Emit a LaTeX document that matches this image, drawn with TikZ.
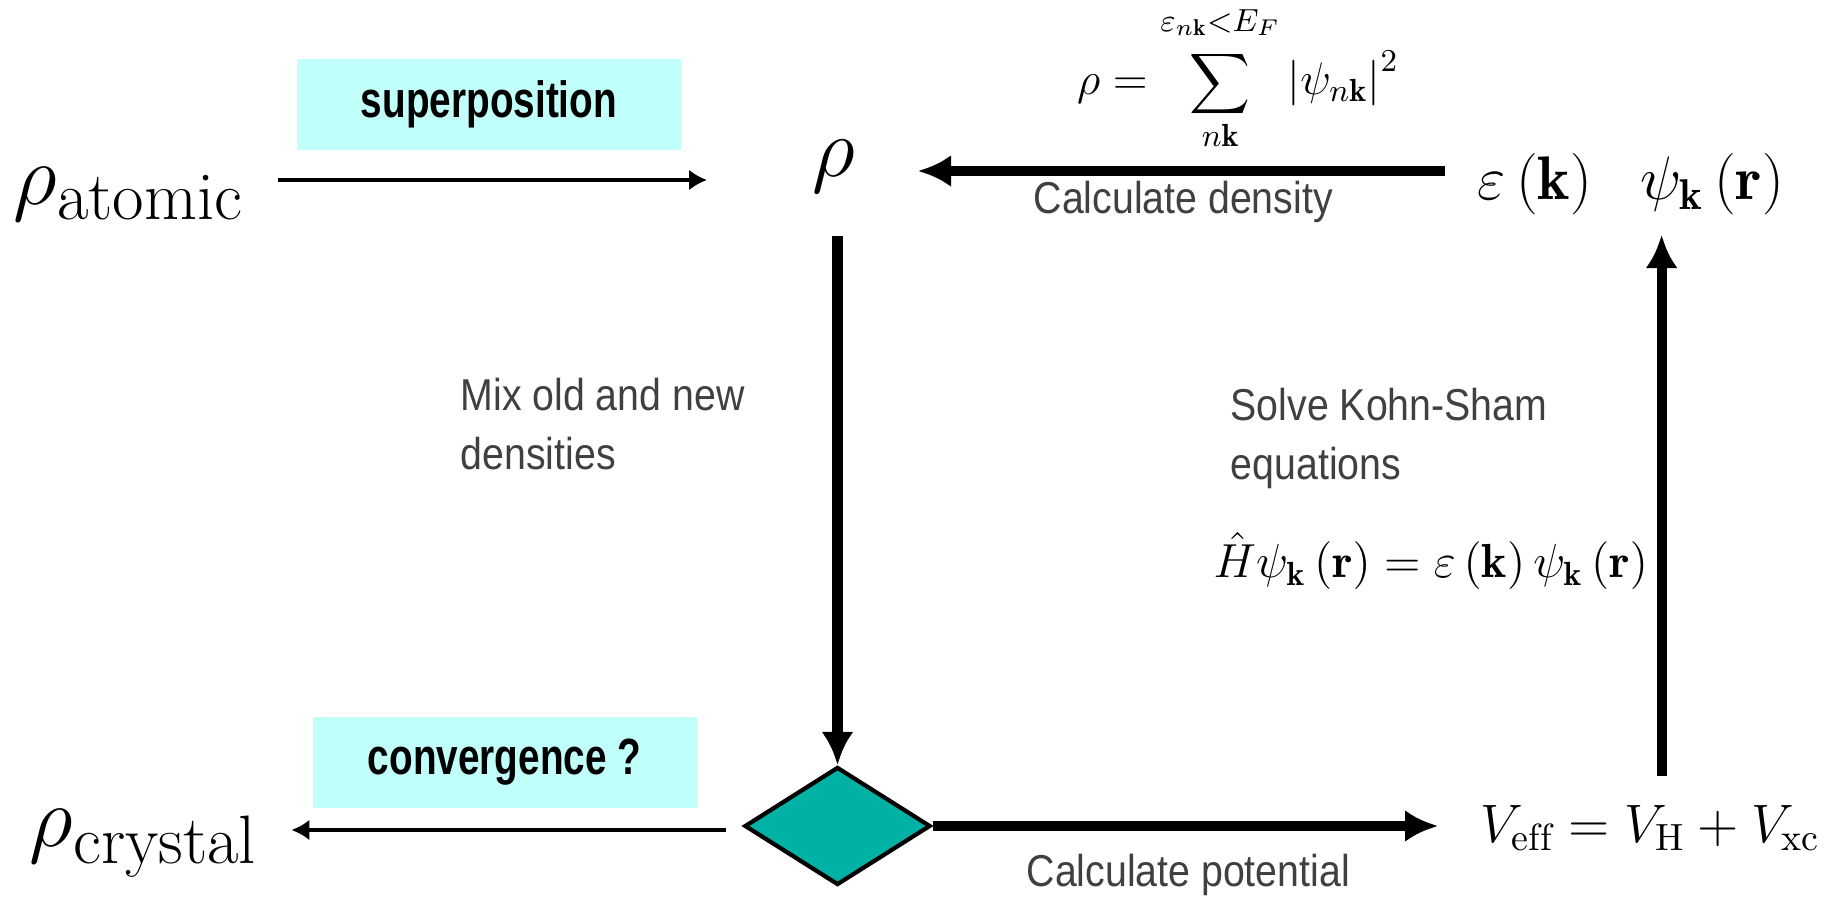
\RequirePackage{fix-cm}
\documentclass[tikz,border=0pt]{standalone}
\usepackage{fontspec}
\usepackage{amsmath}
\usepackage{xcolor}
\usepackage{tikz}
\usetikzlibrary{positioning,arrows.meta,shapes.geometric}
\newfontfamily\lblfont[FakeStretch=0.88]{Liberation Sans}
\newfontfamily\boxfont[FakeStretch=0.76]{Liberation Sans}
\DeclareMathSizes{24.5}{24.5}{19.5}{14}
\definecolor{boxcyan}{RGB}{192,255,250}
\definecolor{tealfill}{RGB}{0,178,166}
\definecolor{labelgray}{RGB}{64,64,64}

\begin{document}
\begin{tikzpicture}[x=0.1mm,y=-0.1mm,
  mathnode/.style={inner sep=0pt, anchor=base west},
  lbl/.style={inner sep=0pt, anchor=base west, align=left, text=labelgray,
    font=\lblfont\fontsize{12.7pt}{17pt}\selectfont},
  cbox/.style={fill=boxcyan, minimum width=38.4mm, minimum height=9.1mm, inner sep=0pt,
    font=\boxfont\bfseries\fontsize{14.5pt}{17pt}\selectfont},
  thinarr/.style={line width=1.4pt, -{Latex[length=1.8mm,width=2.1mm]}},
  thickarr/.style={line width=2.9pt, -{Latex[length=3.3mm,width=3.2mm]}}]
\useasboundingbox (0,0) rectangle (1835,898);

% densities and potentials
\node[mathnode, font=\fontsize{24.5pt}{29pt}\selectfont] (atomic) at (13,205) {$\rho_{\mathrm{atomic}}$};
\node[mathnode, font=\fontsize{24.5pt}{29pt}\selectfont] (crystal) at (29,846) {$\rho_{\mathrm{crystal}}$};
\node[inner sep=0pt, anchor=base, font=\fontsize{24pt}{29pt}\selectfont] (rho) at (834,177) {$\rho$};
\node[mathnode, font=\fontsize{17.5pt}{20pt}\selectfont] (bands) at (1477,200)
  {$\varepsilon\left(\mathbf{k}\right)\enspace\hspace{2pt}\psi_{\mathbf{k}}\left(\mathbf{r}\right)$};
\node[mathnode, font=\fontsize{15.4pt}{18pt}\selectfont] (veff) at (1480,842)
  {$V_{\mathrm{eff}}=V_{\mathrm{H}}+V_{\mathrm{xc}}$};
\node[inner sep=0pt, anchor=base, font=\fontsize{13pt}{16pt}\selectfont] (density) at (1238,95)
  {$\displaystyle\rho=\sum_{n\mathbf{k}}^{\varepsilon_{n\mathbf{k}}<E_F\rule[-4pt]{0pt}{0pt}}\left|\psi_{n\mathbf{k}}\right|^2$};
\node[mathnode, font=\fontsize{13.6pt}{17pt}\selectfont] (kseq) at (1213,578)
  {$\hat{H}\psi_{\mathbf{k}}\left(\mathbf{r}\right)=\varepsilon\left(\mathbf{k}\right)\psi_{\mathbf{k}}\left(\mathbf{r}\right)$};

% step labels
\node[lbl] (calcdens) at (1033,214) {Calculate density};
\node[lbl] (calcpot) at (1026,886) {Calculate potential};
\node[lbl] (mixlbl) at (460,470) {Mix old and new\\densities};
\node[lbl] (solvelbl) at (1230,480) {Solve Kohn-Sham\\equations};

\node[cbox] (superbox) at (489,104.5) {superposition};
\node[cbox] (convbox) at (504.5,762.5) {convergence ?};

\node[diamond, draw, line width=1.2pt, fill=tealfill, minimum width=18.6mm,
  minimum height=11.8mm, inner sep=0pt] (check) at (837.5,826) {};

% loop
\draw[thinarr, shorten <=3.3mm, shorten >=10.5mm]
  ([yshift=2.5mm]atomic.base east) -- ([yshift=2.5mm]atomic.base east -| rho.west);
\draw[thickarr, shorten <=3.2mm, shorten >=6.2mm]
  ([yshift=2.9mm]bands.base west) -- ([yshift=2.9mm]bands.base west -| rho.east);
\draw[thickarr, shorten <=4.2mm] (rho.south -| check.north) -- (check.north);
\draw[thickarr, shorten >=4.2mm] (check.east) -- (check.east -| veff.west);
\draw[thickarr, shorten <=2.8mm, shorten >=1.9mm]
  ([xshift=1.1mm]veff.north) -- ([xshift=1.1mm]veff.north |- bands.south);
\draw[thinarr, shorten <=1.6mm, shorten >=3.3mm]
  ([yshift=-0.4mm]check.west) -- ([yshift=-0.4mm]check.west -| crystal.east);
\end{tikzpicture}
\end{document}
